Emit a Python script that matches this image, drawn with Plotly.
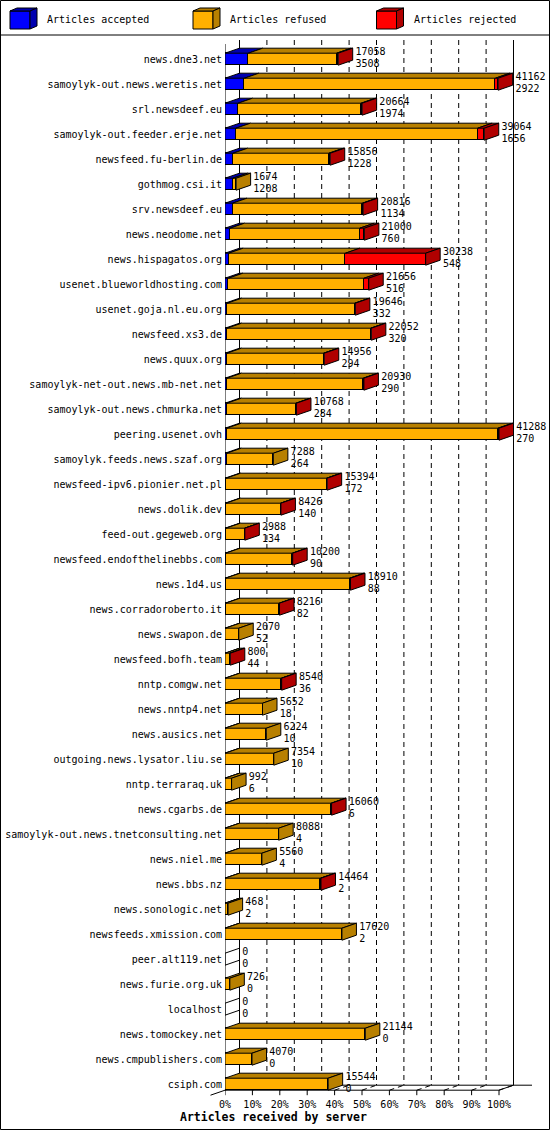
import plotly.graph_objects as go

# incoming feeds, one row per peer
servers = [
    "news.dne3.net", "samoylyk-out.news.weretis.net", "srl.newsdeef.eu",
    "samoylyk-out.feeder.erje.net", "newsfeed.fu-berlin.de", "gothmog.csi.it",
    "srv.newsdeef.eu", "news.neodome.net", "news.hispagatos.org",
    "usenet.blueworldhosting.com", "usenet.goja.nl.eu.org", "newsfeed.xs3.de",
    "news.quux.org", "samoylyk-net-out.news.mb-net.net", "samoylyk-out.news.chmurka.net",
    "peering.usenet.ovh", "samoylyk.feeds.news.szaf.org", "newsfeed-ipv6.pionier.net.pl",
    "news.dolik.dev", "feed-out.gegeweb.org", "newsfeed.endofthelinebbs.com",
    "news.1d4.us", "news.corradoroberto.it", "news.swapon.de", "newsfeed.bofh.team",
    "nntp.comgw.net", "news.nntp4.net", "news.ausics.net", "outgoing.news.lysator.liu.se",
    "nntp.terraraq.uk", "news.cgarbs.de", "samoylyk-out.news.tnetconsulting.net",
    "news.niel.me", "news.bbs.nz", "news.sonologic.net", "newsfeeds.xmission.com",
    "peer.alt119.net", "news.furie.org.uk", "localhost", "news.tomockey.net",
    "news.cmpublishers.com", "csiph.com",
]
offered = [17058, 41162, 20664, 39064, 15856, 1674, 20816, 21000, 30238, 21656,
           19646, 22052, 14956, 20930, 10768, 41288, 7288, 15394, 8426, 2988,
           10200, 18910, 8216, 2070, 800, 8540, 5652, 6224, 7354, 992,
           16060, 8088, 5560, 14464, 468, 17620, 0, 726, 0, 21144,
           4070, 15544]
accepted = [3508, 2922, 1974, 1656, 1228, 1208, 1134, 760, 548, 516,
            332, 320, 294, 290, 284, 270, 264, 172, 140, 134,
            90, 88, 82, 52, 44, 36, 18, 10, 10, 6,
            6, 4, 4, 2, 2, 2, 0, 0, 0, 0,
            0, 0]
# rejected counts are estimated from the red part of each bar
rejected = [240, 420, 150, 1000, 180, 0, 120, 700, 12100, 700,
            90, 100, 100, 100, 80, 150, 0, 100, 60, 40,
            60, 150, 50, 0, 120, 50, 0, 0, 0, 0,
            60, 0, 0, 80, 0, 0, 0, 0, 0, 0,
            0, 0]
refused = [o - a - r for o, a, r in zip(offered, accepted, rejected)]

x_ticks = list(range(0, 101, 10))
x_ticktext = [f"{t}%" for t in x_ticks]
legend_names = ["Articles accepted", "Articles refused", "Articles rejected"]

MONO = "DejaVu Sans Mono"
FRONT = ["#0000FF", "#FFB000", "#FF0000"]
SHADE = ["#0000B0", "#B88000", "#B00000"]

# pixel layout of the page
W, H = 550, 1130
PL, PR, PT, PB = 225, 545, 37, 1097
PX_PCT = 2.74      # px per percent
ROW_PX = 25
FIRST_ROW = 59.2

n = len(servers)
rows = list(range(n))
scale = max(offered)
segs = [[v / scale * 100 for v in s] for s in (accepted, refused, rejected)]
totals = [sum(s[i] for s in segs) for i in rows]

X0, X1 = 0, (PR - PL) / PX_PCT
YT = -(FIRST_ROW - PT) / ROW_PX
YB = YT + (PB - PT) / ROW_PX
DX = 14.5 / PX_PCT
DY = 5 / ROW_PX
HALF = 6 / ROW_PX
FLOOR = n - 1 + HALF


def px_x(p):
    return (p - PL) / (PR - PL)


def px_y(p):
    return (PB - p) / (PB - PT)


fig = go.Figure()

# front faces
for k in range(3):
    fig.add_trace(go.Bar(
        y=rows, x=segs[k], orientation="h", width=2 * HALF,
        marker=dict(color=FRONT[k], line=dict(color="black", width=1)),
        name=legend_names[k], showlegend=False, hoverinfo="skip",
    ))

# top faces and the right side of each box
top_x = [[], [], []]
top_y = [[], [], []]
side_x = [[], [], [], []]
side_y = [[], [], [], []]
for i in rows:
    start = 0
    last = 3
    yt = i - HALF
    for k in range(3):
        w = segs[k][i]
        if w <= 0:
            continue
        top_x[k] += [start, start + w, start + w + DX, start + DX, start, None]
        top_y[k] += [yt, yt, yt - DY, yt - DY, yt, None]
        start += w
        last = k
    side_x[last] += [start, start + DX, start + DX, start, start, None]
    side_y[last] += [yt, yt - DY, i + HALF - DY, i + HALF, yt, None]

for k in range(3):
    for xs, ys in ((top_x[k], top_y[k]), (side_x[k], side_y[k])):
        fig.add_trace(go.Scatter(
            x=xs, y=ys, mode="lines", fill="toself", fillcolor=SHADE[k],
            line=dict(color="black", width=1), hoverinfo="skip", showlegend=False,
        ))
fig.add_trace(go.Scatter(
    x=side_x[3], y=side_y[3], mode="lines",
    line=dict(color="black", width=1), hoverinfo="skip", showlegend=False,
))

# value labels: offered on top, accepted below
lab_x = [t + DX + 1.0 for t in totals]
fig.add_trace(go.Scatter(
    x=lab_x, y=[i - 0.26 for i in rows], text=[str(v) for v in offered],
    mode="text", textposition="middle right", cliponaxis=False,
    textfont=dict(family=MONO, size=10, color="black"), hoverinfo="skip", showlegend=False,
))
fig.add_trace(go.Scatter(
    x=lab_x, y=[i + 0.2 for i in rows], text=[str(v) for v in accepted],
    mode="text", textposition="middle right", cliponaxis=False,
    textfont=dict(family=MONO, size=10, color="black"), hoverinfo="skip", showlegend=False,
))

shapes = []
line = dict(color="black", width=1)
dashed = dict(color="black", width=1, dash="5px,4px")
wall_top = YT + 3 / ROW_PX
# back wall grid
for t in x_ticks:
    shapes.append(dict(type="line", xref="x", yref="y", layer="below",
                       x0=t + DX, x1=t + DX, y0=wall_top, y1=FLOOR - DY,
                       line=line if t in (0, 100) else dashed))
    # depth line on the floor and small tick at the front
    shapes.append(dict(type="line", xref="x", yref="y", layer="below",
                       x0=t, x1=t + DX, y0=FLOOR, y1=FLOOR - DY, line=dashed))
    shapes.append(dict(type="line", xref="x", yref="y",
                       x0=t, x1=t, y0=FLOOR, y1=FLOOR + 5 / ROW_PX, line=line))
# floor edges and front axis
shapes += [
    dict(type="line", xref="x", yref="y", layer="below", x0=DX, x1=(532 - PL) / PX_PCT,
         y0=FLOOR - DY, y1=FLOOR - DY, line=line),
    dict(type="line", xref="x", yref="y", x0=0, x1=100, y0=FLOOR, y1=FLOOR, line=line),
    dict(type="line", xref="x", yref="y", x0=100, x1=100 + DX, y0=FLOOR, y1=FLOOR - DY, line=line),
    dict(type="line", xref="x", yref="y", x0=0, x1=0, y0=YT + 7 / ROW_PX, y1=FLOOR, line=line),
    dict(type="line", xref="x domain", yref="y domain",
         x0=(0 - X0) / (X1 - X0), x1=(-DX - X0) / (X1 - X0),
         y0=(FLOOR - YB) / (YT - YB), y1=(FLOOR + DY - YB) / (YT - YB), line=line),
]

# frame and legend box
shapes.append(dict(type="rect", xref="paper", yref="paper",
                   x0=px_x(0.5), x1=px_x(W - 0.5), y0=px_y(0.5), y1=px_y(H - 0.5), line=line))
shapes.append(dict(type="line", xref="paper", yref="paper",
                   x0=px_x(0), x1=px_x(W), y0=px_y(35), y1=px_y(35), line=line))

annotations = []
for k, lx in enumerate([10, 193, 376.5]):
    fx0, fx1, fy0, fy1 = lx, lx + 20, 11, 29
    d, e = 7, 3
    front = f"M{px_x(fx0)},{px_y(fy0)} L{px_x(fx1)},{px_y(fy0)} L{px_x(fx1)},{px_y(fy1)} L{px_x(fx0)},{px_y(fy1)} Z"
    top = (f"M{px_x(fx0)},{px_y(fy0)} L{px_x(fx1)},{px_y(fy0)} L{px_x(fx1 + d)},{px_y(fy0 - e)} "
           f"L{px_x(fx0 + d)},{px_y(fy0 - e)} Z")
    side = (f"M{px_x(fx1)},{px_y(fy0)} L{px_x(fx1 + d)},{px_y(fy0 - e)} L{px_x(fx1 + d)},{px_y(fy1 - e)} "
            f"L{px_x(fx1)},{px_y(fy1)} Z")
    shapes.append(dict(type="path", xref="paper", yref="paper", path=front,
                       fillcolor=FRONT[k], line=line))
    shapes.append(dict(type="path", xref="paper", yref="paper", path=top,
                       fillcolor=SHADE[k], line=line))
    shapes.append(dict(type="path", xref="paper", yref="paper", path=side,
                       fillcolor=SHADE[k], line=line))
    annotations.append(dict(xref="paper", yref="paper", x=px_x(lx + 35), y=px_y(20),
                            xanchor="left", yanchor="middle", showarrow=False,
                            text=legend_names[k], font=dict(family=MONO, size=10, color="black")))

annotations.append(dict(xref="paper", yref="paper", x=px_x(273.5), y=px_y(1117),
                        xanchor="center", yanchor="middle", showarrow=False,
                        text="<b>Articles received by server</b>",
                        font=dict(family=MONO, size=11.5, color="black")))

fig.update_layout(
    template="none",
    width=W, height=H,
    margin=dict(l=PL, r=W - PR, t=PT, b=H - PB, pad=0),
    barmode="stack", bargap=0,
    paper_bgcolor="white", plot_bgcolor="white",
    showlegend=False,
    shapes=shapes, annotations=annotations,
    xaxis=dict(range=[X0, X1], tickvals=x_ticks, ticktext=x_ticktext, showgrid=False,
               zeroline=False, showline=False, ticks="", automargin=False,
               tickfont=dict(family=MONO, size=10, color="black"), fixedrange=True),
    yaxis=dict(range=[YB, YT], tickvals=rows, ticktext=servers, showgrid=False,
               zeroline=False, showline=False, ticks="", automargin=False,
               ticklabelstandoff=2,
               tickfont=dict(family=MONO, size=10, color="black"), fixedrange=True),
)

# the page body has a default 8px margin; drop it so the chart sits at the corner
fig.write_html("out.html", config={"displayModeBar": False},
               post_script="document.body.style.margin='0';")
